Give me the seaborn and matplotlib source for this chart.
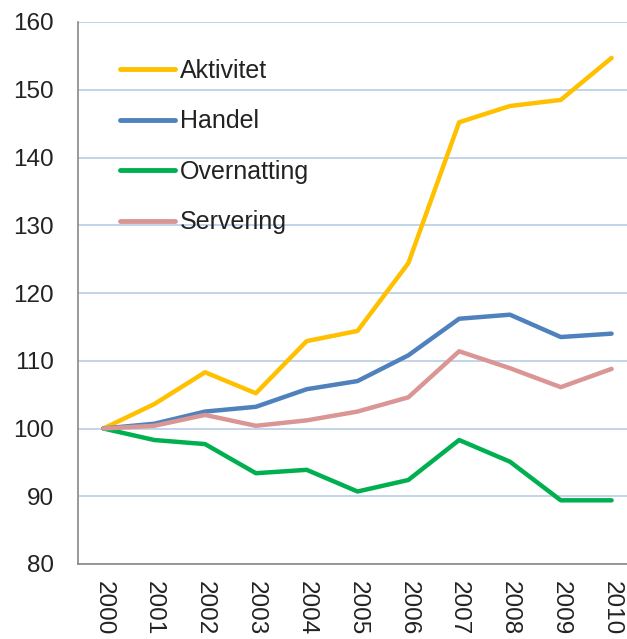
import matplotlib
matplotlib.use("Agg")
import matplotlib.pyplot as plt
import seaborn as sns
import pandas as pd
import numpy as np

years = ["2000", "2001", "2002", "2003", "2004", "2005", "2006", "2007", "2008", "2009", "2010"]
aktivitet = [100, 103.6, 108.3, 105.2, 112.9, 114.4, 124.4, 145.2, 147.6, 148.5, 154.7]
handel = [100, 100.7, 102.5, 103.2, 105.8, 107.0, 110.8, 116.2, 116.8, 113.5, 114.0]
overnatting = [100, 98.3, 97.7, 93.4, 93.9, 90.7, 92.4, 98.3, 95.1, 89.4, 89.4]
servering = [100, 100.4, 102.0, 100.4, 101.2, 102.5, 104.6, 111.4, 108.9, 106.1, 108.8]
series_names = ["Aktivitet", "Handel", "Overnatting", "Servering"]
colors = ["#FFC000", "#4F81BD", "#00B050", "#D99694"]
yticks = [80, 90, 100, 110, 120, 130, 140, 150, 160]

sns.set_style("white")
plt.rcParams["font.family"] = ["Liberation Sans", "DejaVu Sans"]

rows = []
for name, vals in zip(series_names, [aktivitet, handel, overnatting, servering]):
    for i, v in enumerate(vals):
        rows.append({"idx": i, "value": v, "series": name})
df = pd.DataFrame(rows)

fig = plt.figure(figsize=(6.27, 6.39), dpi=100)
ax = fig.add_axes([78 / 627, 1 - 564 / 639, 559 / 627, (564 - 22) / 639])

sns.lineplot(data=df, x="idx", y="value", hue="series", hue_order=series_names,
             palette=colors, linewidth=3.2, ax=ax, legend=False)

ax.set_xlim(-0.5, len(years) - 0.5)
ax.set_ylim(80, 160)
ax.set_yticks(yticks)
ax.set_yticklabels([str(t) for t in yticks], fontsize=17.5, color="#222222")
ax.yaxis.grid(True, color="#B9CDE5", linewidth=1.2)
ax.set_axisbelow(True)

ax.set_xticks(range(len(years)))
ax.set_xticklabels(years, rotation=270, fontsize=17.5, color="#222222")
ax.set_xticks(np.arange(-0.5, len(years), 1.0), minor=True)
ax.tick_params(axis="x", which="major", length=0, pad=12)
ax.tick_params(axis="x", which="minor", length=6, width=1.2, color="#888888", direction="out")
ax.tick_params(axis="y", which="major", length=6.5, width=1.2, color="#888888", direction="out", pad=11)
ax.set_xlabel("")
ax.set_ylabel("")

for s in ["top", "right"]:
    ax.spines[s].set_visible(False)
for s in ["left", "bottom"]:
    ax.spines[s].set_color("#888888")
    ax.spines[s].set_linewidth(1.2)

from matplotlib.lines import Line2D
handles = [Line2D([0], [0], color=c, linewidth=3.5, solid_capstyle="round") for c in colors]
leg = ax.legend(handles, series_names, loc="upper left", bbox_to_anchor=(0.075, 0.932),
                frameon=False, fontsize=18, handlelength=2.2, handletextpad=0.2,
                labelspacing=1.06, borderaxespad=0, borderpad=0)
for t in leg.get_texts():
    t.set_color("#222222")

fig.savefig("out.png", dpi=100)
